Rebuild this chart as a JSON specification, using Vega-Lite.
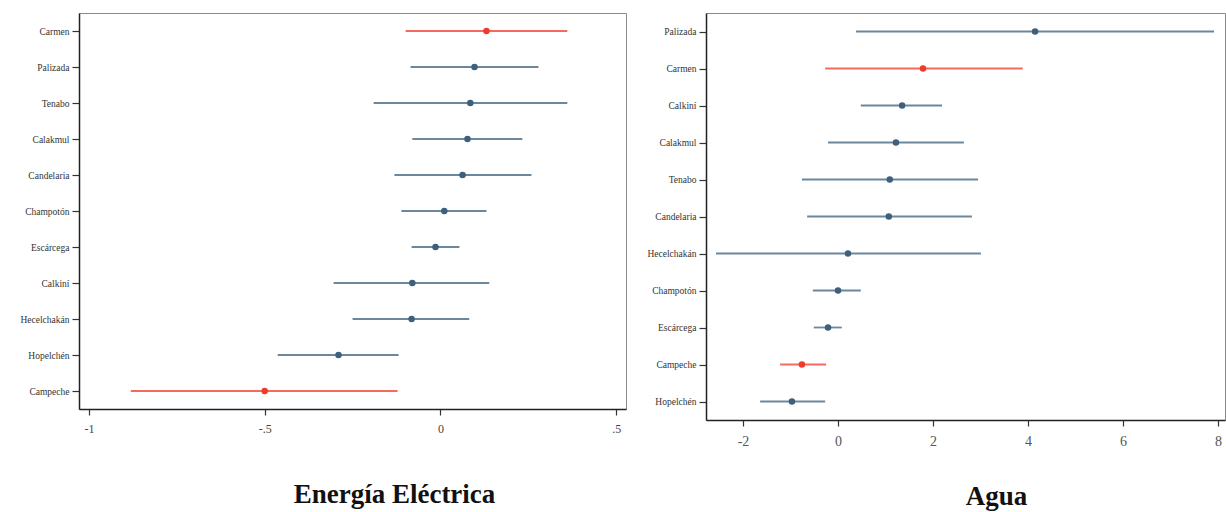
{
  "$schema": "https://vega.github.io/schema/vega-lite/v6.json",
  "background": "white",
  "padding": {"left": 19, "top": 12, "right": 0, "bottom": 0},
  "spacing": 19,
  "config": {
    "font": "Liberation Serif",
    "view": {"stroke": "#8a8a8a", "strokeWidth": 1},
    "axis": {"grid": false, "domainColor": "#222222", "domainWidth": 1.5, "tickColor": "#333333", "tickWidth": 1.2, "labelFont": "Liberation Serif", "labelColor": "#333333", "title": null},
    "title": {"font": "Liberation Serif", "fontWeight": "bold", "color": "#111111"}
  },
  "datasets": {
    "energia": [
      {"municipio": "Carmen", "est": 0.131, "lo": -0.099, "hi": 0.361, "rojo": true},
      {"municipio": "Palizada", "est": 0.097, "lo": -0.085, "hi": 0.279, "rojo": false},
      {"municipio": "Tenabo", "est": 0.085, "lo": -0.19, "hi": 0.361, "rojo": false},
      {"municipio": "Calakmul", "est": 0.077, "lo": -0.08, "hi": 0.233, "rojo": false},
      {"municipio": "Candelaria", "est": 0.063, "lo": -0.131, "hi": 0.259, "rojo": false},
      {"municipio": "Champotón", "est": 0.011, "lo": -0.111, "hi": 0.131, "rojo": false},
      {"municipio": "Escárcega", "est": -0.014, "lo": -0.082, "hi": 0.054, "rojo": false},
      {"municipio": "Calkiní", "est": -0.08, "lo": -0.304, "hi": 0.139, "rojo": false},
      {"municipio": "Hecelchakán", "est": -0.082, "lo": -0.25, "hi": 0.082, "rojo": false},
      {"municipio": "Hopelchén", "est": -0.29, "lo": -0.463, "hi": -0.119, "rojo": false},
      {"municipio": "Campeche", "est": -0.5, "lo": -0.881, "hi": -0.122, "rojo": true}
    ],
    "agua": [
      {"municipio": "Palizada", "est": 4.15, "lo": 0.38, "hi": 7.92, "rojo": false},
      {"municipio": "Carmen", "est": 1.79, "lo": -0.27, "hi": 3.89, "rojo": true},
      {"municipio": "Calkiní", "est": 1.35, "lo": 0.48, "hi": 2.19, "rojo": false},
      {"municipio": "Calakmul", "est": 1.22, "lo": -0.21, "hi": 2.65, "rojo": false},
      {"municipio": "Tenabo", "est": 1.09, "lo": -0.76, "hi": 2.95, "rojo": false},
      {"municipio": "Candelaria", "est": 1.07, "lo": -0.65, "hi": 2.82, "rojo": false},
      {"municipio": "Hecelchakán", "est": 0.21, "lo": -2.57, "hi": 3.01, "rojo": false},
      {"municipio": "Champotón", "est": 0.0, "lo": -0.53, "hi": 0.48, "rojo": false},
      {"municipio": "Escárcega", "est": -0.21, "lo": -0.51, "hi": 0.08, "rojo": false},
      {"municipio": "Campeche", "est": -0.76, "lo": -1.22, "hi": -0.25, "rojo": true},
      {"municipio": "Hopelchén", "est": -0.97, "lo": -1.64, "hi": -0.27, "rojo": false}
    ]
  },
  "hconcat": [
    {
      "data": {"name": "energia"},
      "width": 547,
      "height": 396,
      "title": {"text": "Energía Eléctrica", "orient": "bottom", "anchor": "middle", "frame": "group", "fontSize": 27, "offset": 48, "dx": 42},
      "encoding": {
        "y": {"field": "municipio", "type": "nominal", "sort": null, "scale": {"type": "point", "padding": 0.5},
          "axis": {"labelFontSize": 9.5, "tickSize": 7, "labelPadding": 3}}
      },
      "layer": [
        {
          "mark": {"type": "rule", "strokeWidth": 1.8},
          "encoding": {
            "x": {"field": "lo", "type": "quantitative",
              "scale": {"domain": [-1.0284, 0.528], "nice": false, "zero": false},
              "axis": {"values": [-1, -0.5, 0, 0.5], "labelExpr": "datum.value == -0.5 ? '-.5' : datum.value == 0.5 ? '.5' : '' + datum.value", "labelFontSize": 12, "tickSize": 6, "labelPadding": 8, "labelColor": "#444444"}},
            "x2": {"field": "hi"},
            "color": {"condition": {"test": "datum.rojo", "value": "#f36a5f"}, "value": "#6b879c"}
          }
        },
        {
          "mark": {"type": "point", "filled": true, "opacity": 1, "size": 42},
          "encoding": {
            "x": {"field": "est", "type": "quantitative"},
            "color": {"condition": {"test": "datum.rojo", "value": "#ef3b2c"}, "value": "#3f5f7a"}
          }
        },
        {
          "mark": {"type": "rule", "color": "#d9475f", "strokeWidth": 1.5},
          "encoding": {"x": {"datum": 0, "type": "quantitative"}}
        }
      ]
    },
    {
      "data": {"name": "agua"},
      "width": 519,
      "height": 407,
      "title": {"text": "Agua", "orient": "bottom", "anchor": "middle", "frame": "group", "fontSize": 27, "offset": 36, "dx": 31},
      "encoding": {
        "y": {"field": "municipio", "type": "nominal", "sort": null, "scale": {"type": "point", "padding": 0.5},
          "axis": {"labelFontSize": 9.5, "tickSize": 7, "labelPadding": 3}}
      },
      "layer": [
        {
          "mark": {"type": "rule", "strokeWidth": 1.8},
          "encoding": {
            "x": {"field": "lo", "type": "quantitative",
              "scale": {"domain": [-2.78, 8.15], "nice": false, "zero": false},
              "axis": {"values": [-2, 0, 2, 4, 6, 8], "labelExpr": "'' + datum.value", "labelFontSize": 14, "tickSize": 6, "labelPadding": 8, "labelColor": "#555555"}},
            "x2": {"field": "hi"},
            "color": {"condition": {"test": "datum.rojo", "value": "#f36a5f"}, "value": "#6b879c"}
          }
        },
        {
          "mark": {"type": "point", "filled": true, "opacity": 1, "size": 42},
          "encoding": {
            "x": {"field": "est", "type": "quantitative"},
            "color": {"condition": {"test": "datum.rojo", "value": "#ef3b2c"}, "value": "#3f5f7a"}
          }
        },
        {
          "mark": {"type": "rule", "color": "#d98a99", "strokeWidth": 2},
          "encoding": {"x": {"datum": 0, "type": "quantitative"}}
        }
      ]
    }
  ]
}
